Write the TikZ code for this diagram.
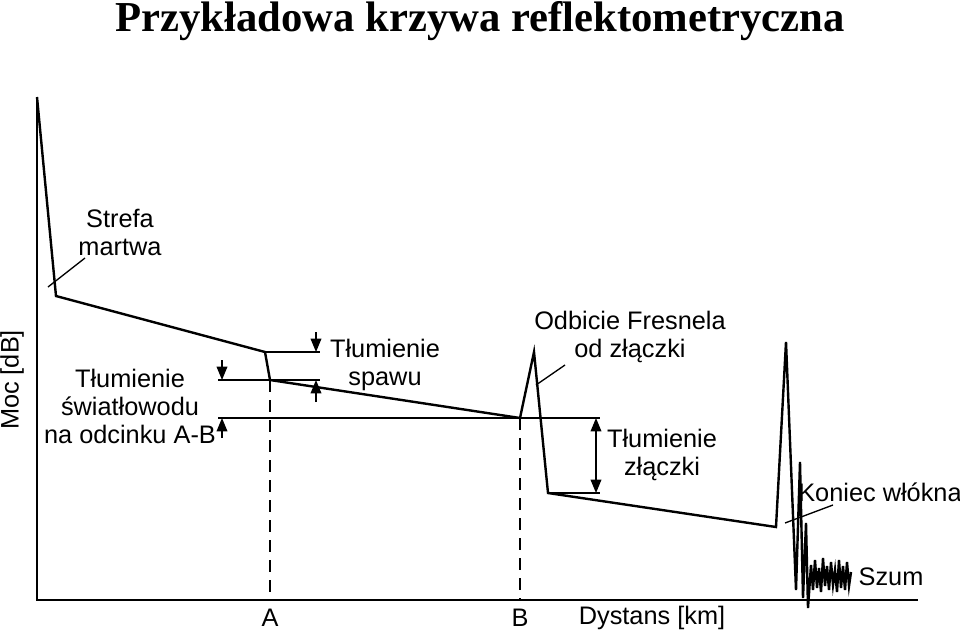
\documentclass[tikz,border=0pt]{standalone}
\usepackage{fontspec}
\setmainfont{Liberation Sans}
\newfontfamily\titlefont{Liberation Serif}
\usetikzlibrary{arrows.meta}

\begin{document}
\begin{tikzpicture}[x=0.75pt,y=-0.75pt,
	trace/.style={line width=1.8pt, line join=miter},
	guide/.style={line width=1pt},
	marker/.style={line width=1pt, -{Triangle[length=10pt,width=8pt]}},
	lbl/.style={align=center, font=\fontsize{19}{21}\selectfont, inner sep=0pt}]

	%% The page frame
	\useasboundingbox (0,0) rectangle (960,633);

	%% Axes
	\draw[trace] (37,97) -- (37,600) -- (918,600);

	%% The trace itself
	\draw[trace] (37,97) -- (56,296) -- (265,352) -- (270,380) -- (520,418)
		-- (534,352) -- (548,493) -- (776,527) -- (786,342) -- (796,590)
		-- (800,462) -- (803,598) -- (806,523) -- (808,608) -- (811,565)
		-- (813,590) -- (815,560) -- (817,588) -- (819,568) -- (821,592)
		-- (823,558) -- (825,586) -- (827,566) -- (829,590) -- (831,562)
		-- (833,585) -- (835,570) -- (837,592) -- (839,560) -- (841,588)
		-- (843,566) -- (845,590) -- (847,562) -- (849,586) -- (851,572);

	%% Guide lines
	\draw[guide, dash pattern=on 9pt off 6pt] (270,380) -- (270,600);
	\draw[guide, dash pattern=on 9pt off 6pt] (520,418) -- (520,600);
	\draw[guide] (265,352) -- (320,352);
	\draw[guide] (218,380) -- (320,380);
	\draw[guide] (218,418) -- (600,418);
	\draw[guide] (548,493) -- (600,493);

	%% Arrows
	\draw[marker] (222,360) -- (222,380);
	\draw[marker] (222,438) -- (222,418);
	\draw[marker] (316,332) -- (316,352);
	\draw[marker] (316,402) -- (316,380);
	\draw[marker, {Triangle[length=10pt,width=8pt]}-{Triangle[length=10pt,width=8pt]}] (596,418) -- (596,493);

	%% Leader lines
	\draw[guide] (48,287) -- (85,258);
	\draw[guide] (536,385) -- (565,365);
	\draw[guide] (785,523) -- (833,505);

	%% Labels
	\node[font=\titlefont\bfseries\fontsize{32}{36}\selectfont] (title) at (480,21) {Przykładowa krzywa reflektometryczna};
	\node[lbl] (strefa) at (120,232) {Strefa\\martwa};
	\node[lbl] (swiatlowod) at (130,406) {Tłumienie\\światłowodu\\na odcinku A-B};
	\node[lbl] (spaw) at (385,365) {Tłumienie\\spawu};
	\node[lbl] (fresnel) at (630,337) {Odbicie Fresnela\\od złączki};
	\node[lbl] (zlaczka) at (662,455) {Tłumienie\\złączki};
	\node[lbl] (koniec) at (880,492) {Koniec włókna};
	\node[lbl] (szum) at (891,577) {Szum};
	\node[lbl] (a) at (270,618) {A};
	\node[lbl] (b) at (520,618) {B};
	\node[lbl] (dystans) at (652,618) {Dystans [km]};
	\node[lbl, rotate=90] (moc) at (12,380) {Moc [dB]};

\end{tikzpicture}
\end{document}
